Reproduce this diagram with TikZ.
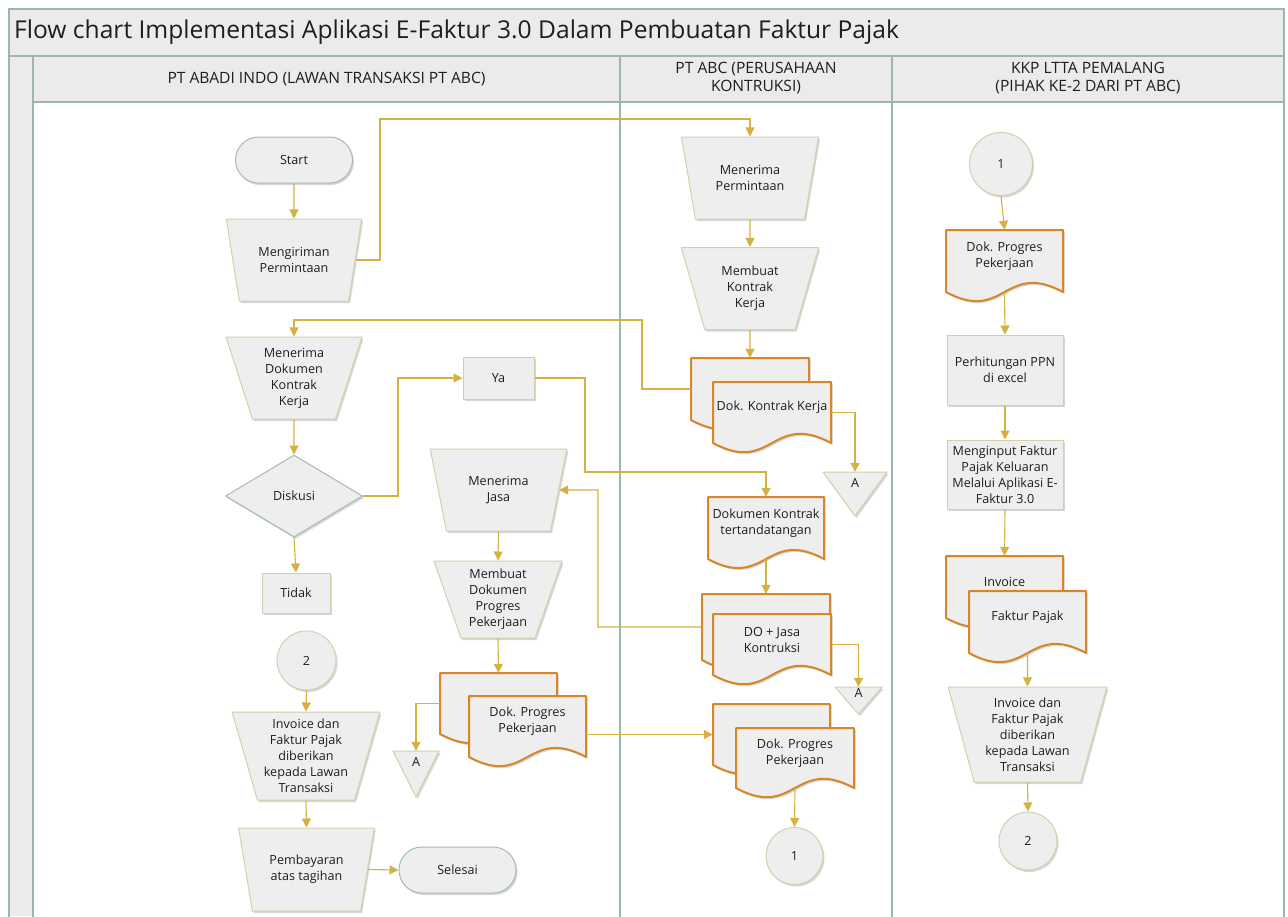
\documentclass[tikz,border=0pt]{standalone}
\usepackage{fontspec}
\setmainfont{Open Sans}
\usetikzlibrary{shapes.geometric,arrows.meta,shadows}
\definecolor{poolline}{HTML}{9DB6AF}
\definecolor{hdrfill}{HTML}{EBEBEB}
\definecolor{nodefill}{HTML}{EEEEEE}
\definecolor{tanline}{HTML}{D6CFAA}
\definecolor{tealline}{HTML}{A3BCB4}
\definecolor{docline}{HTML}{D7862A}
\definecolor{conncol}{HTML}{D4B140}
\definecolor{txt}{HTML}{1E1E1E}
\tikzset{
 shd/.style={drop shadow={shadow xshift=1.5pt,shadow yshift=-2pt,opacity=0.16,fill=black}},
 base/.style={fill=nodefill, text=txt, font=\fontsize{12.6}{16}\selectfont, align=center, inner sep=1pt, line width=1pt, shd},
 trapbox/.style={base, draw=tanline, trapezium, trapezium stretches=true, trapezium angle=#1},
 termbox/.style={base, draw=tealline, rectangle, rounded corners=23pt, minimum width=117pt, minimum height=46pt},
 procbox/.style={base, draw=tanline, rectangle},
 diabox/.style={base, draw=tealline, diamond},
 connbox/.style={base, draw=tanline, circle},
 docpath/.style={fill=nodefill, draw=docline, line width=2pt, line join=round, shd},
 blank/.style={rectangle, draw=none, fill=none, inner sep=0pt},
 doctext/.style={blank, text=txt, font=\fontsize{12.6}{16}\selectfont, align=center},
 offpath/.style={fill=nodefill, draw=tanline, line width=1pt, line join=round, shd},
 conn/.style={draw=conncol, line width=1.1pt, -{Triangle[length=9pt,width=9pt]}},
 lane/.style={draw=poolline, line width=1.2pt},
 hdr/.style={blank, text=txt, font=\fontsize{15.6}{18}\selectfont, align=center},
}
\newcommand\docshape[6]{%
 \path[docpath] (#2,#3) -- (#2+#4,#3) -- (#2+#4,#3+#5) .. controls (#2+0.5*#4,#3+#5-0.27*#4) and (#2+0.5*#4,#3+#5+0.27*#4) .. (#2,#3+#5) -- cycle;
 \node[blank, minimum width=#4pt, minimum height=#5pt] (#1) at (#2+0.5*#4,#3+0.5*#5) {};
 \node[doctext] (#1t) at (#2+0.5*#4,#3+0.5*#5-5) {#6};
}
\newcommand\offpage[6]{%
 \path[offpath] (#2,#3) -- (#2+#4,#3) -- (#2+0.5*#4,#3+#5) -- cycle;
 \node[blank, minimum width=#4pt, minimum height=#5pt] (#1) at (#2+0.5*#4,#3+0.5*#5) {};
 \node[doctext] (#1t) at (#2+0.5*#4,#3+#6) {A};
}
\begin{document}
\begin{tikzpicture}[x=1pt,y=-1pt]
\useasboundingbox (0,0) rectangle (1288,916);
\fill[white] (0,0) rectangle (1288,916);
% pool
\fill[hdrfill] (9,9) rectangle (1284,916);
\fill[white] (33,102) rectangle (1284,916);
\draw[lane] (9,930) -- (9,9) -- (1284,9) -- (1284,930);
\draw[lane] (9,56) -- (1284,56);
\draw[lane] (33,56) -- (33,930);
\draw[lane] (33,102) -- (1284,102);
\draw[lane] (620,56) -- (620,930);
\draw[lane] (892,56) -- (892,930);
\node[blank, anchor=west, text=txt, font=\fontsize{24.6}{28}\selectfont] (title) at (14,32) {Flow chart Implementasi Aplikasi E-Faktur 3.0 Dalam Pembuatan Faktur Pajak};
\node[hdr] (h1) at (326.5,79) {PT ABADI INDO (LAWAN TRANSAKSI PT ABC)};
\node[hdr] (h2) at (756,78) {PT ABC (PERUSAHAAN\\KONTRUKSI)};
\node[hdr] (h3) at (1088,78) {KKP LTTA PEMALANG\\(PIHAK KE-2 DARI PT ABC)};
% lane 1
\node[termbox] (start) at (294,160) {Start};
\node[trapbox=107.6, minimum width=136pt, minimum height=82pt] (send) at (294,260) {Mengiriman\\Permintaan};
\node[trapbox=107.6, minimum width=136pt, minimum height=82pt] (recvdoc) at (294,378) {Menerima\\Dokumen\\Kontrak\\Kerja};
\node[diabox, minimum width=137pt, minimum height=82pt] (disk) at (294,496) {Diskusi};
\node[procbox, minimum width=68pt, minimum height=40pt] (tidak) at (296,593) {Tidak};
\node[connbox, minimum size=59pt] (c2a) at (306.5,660.5) {2};
\node[trapbox=106.5, minimum width=148pt, minimum height=88pt] (inv1) at (306,756) {Invoice dan\\Faktur Pajak\\diberikan\\kepada Lawan\\Transaksi};
\node[trapbox=107.4, minimum width=137pt, minimum height=83pt] (pay) at (306.5,869.5) {Pembayaran\\atas tagihan};
\node[termbox] (selesai) at (457.5,870) {Selesai};
\node[procbox, minimum width=71pt, minimum height=42pt] (ya) at (498.5,378) {Ya};
\node[trapbox=108.2, minimum width=137pt, minimum height=82pt] (mj) at (498.5,490) {Menerima\\Jasa};
\node[trapbox=109.3, minimum width=128pt, minimum height=77pt] (mdp) at (498,599.5) {Membuat\\Dokumen\\Progres\\Pekerjaan};
\docshape{dpb}{440}{673}{117}{61}{}
\docshape{dpf}{469}{696}{117}{61}{Dok. Progres\\Pekerjaan}
\offpage{A1}{393}{751}{46}{46}{11}
% lane 2
\node[trapbox=108.2, minimum width=138pt, minimum height=82pt] (mp) at (750,178) {Menerima\\Permintaan};
\node[trapbox=108.2, minimum width=138pt, minimum height=82pt] (mkk) at (750,288.5) {Membuat\\Kontrak\\Kerja};
\docshape{kkb}{691}{358}{118}{62}{}
\docshape{kkf}{713}{382}{118}{61}{Dok. Kontrak Kerja}
\offpage{A2}{823}{472}{64}{44}{11}
\docshape{dkt}{708}{497}{116}{62}{Dokumen Kontrak\\tertandatangan}
\docshape{dob}{702}{594}{128}{66}{}
\docshape{dof}{713}{614}{118}{61}{DO + Jasa\\Kontruksi}
\offpage{A3}{835}{687}{47}{27}{6}
\docshape{dp2b}{713}{704}{117}{61}{}
\docshape{dp2f}{736}{728}{118}{60}{Dok. Progres\\Pekerjaan}
\node[connbox, minimum size=57pt] (c1a) at (794.5,856) {1};
% lane 3
\node[connbox, minimum size=63pt] (c1b) at (1001,164) {1};
\docshape{d3}{946}{230}{117}{62}{Dok. Progres\\Pekerjaan}
\node[procbox, minimum width=116pt, minimum height=70pt] (ppn) at (1005,370) {Perhitungan PPN\\di excel};
\node[procbox, minimum width=116pt, minimum height=69pt] (minp) at (1005,474.5) {Menginput Faktur\\Pajak Keluaran\\Melalui Aplikasi E-\\Faktur 3.0};
\docshape{invb}{946}{556}{117}{62}{Invoice}
\docshape{fpf}{969}{591}{117}{62}{Faktur Pajak}
\node[trapbox=105.6, minimum width=159pt, minimum height=95pt] (tr3) at (1027.5,734.5) {Invoice dan\\Faktur Pajak\\diberikan\\kepada Lawan\\Transaksi};
\node[connbox, minimum size=58pt] (c2b) at (1028,841) {2};
% connectors
\draw[conn] (start.south) -- (send.north);
\draw[conn] (send.east) -| (380,119) -| (mp.north);
\draw[conn] (mp.south) -- (mkk.north);
\draw[conn] (mkk.south) -- (kkb.north);
\draw[conn] (kkb.west) -| (642,320) -| (recvdoc.north);
\draw[conn] (recvdoc.south) -- (disk.north);
\draw[conn] (disk.east) -| (398,378) -- (ya.west);
\draw[conn] (ya.east) -| (585,472) -| (dkt.north);
\draw[conn] (kkf.east) -| (A2.north);
\draw[conn] (disk.south) -- (tidak.north);
\draw[conn] (dkt.south) -- (dob.north);
\draw[conn] (dob.west) -| (598,490) -- (mj.east);
\draw[conn] (dof.east) -| (A3.north);
\draw[conn] (mj.south) -- (mdp.north);
\draw[conn] (mdp.south) -- (dpb.north);
\draw[conn] (dpb.west) -| (A1.north);
\draw[conn] (dpf.east |- dp2b.west) -- (dp2b.west);
\draw[conn] (dp2f.south) -- (c1a.north);
\draw[conn] (c1b.south) -- (d3.north);
\draw[conn] (d3.south) -- (ppn.north);
\draw[conn] (ppn.south) -- (minp.north);
\draw[conn] (minp.south) -- (invb.north);
\draw[conn] (fpf.south) -- (tr3.north);
\draw[conn] (tr3.south) -- (c2b.north);
\draw[conn] (c2a.south) -- (inv1.north);
\draw[conn] (inv1.south) -- (pay.north);
\draw[conn] (pay.east) -- (selesai.west);
\end{tikzpicture}
\end{document}
